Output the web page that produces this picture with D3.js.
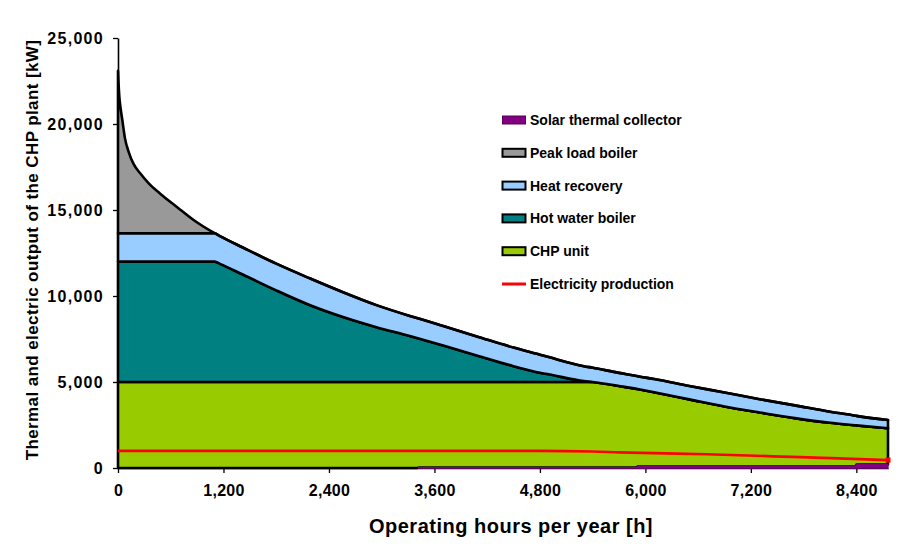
<!DOCTYPE html>
<html>
<head>
<meta charset="utf-8">
<script src="https://cdn.jsdelivr.net/npm/d3@7/dist/d3.min.js"></script>
<style>
  html, body { margin: 0; padding: 0; background: #fff; }
  svg { display: block; }
  text { font-family: "Liberation Sans", Arial, sans-serif; font-weight: bold; fill: #000; }
</style>
</head>
<body>
<svg id="chart" width="911" height="560"></svg>
<script>
// Operating hours (x categories)
const hours = [0, 5, 15, 30, 50, 80, 120, 180, 250, 350, 480, 670, 860, 1100, 1160, 1420, 1800, 2180, 2560, 2940, 3320, 3410, 3420, 3700, 4100, 4500, 4800, 4900, 5300, 5400, 5700, 5900, 5910, 6100, 6500, 6900, 7300, 7700, 8100, 8390, 8400, 8760];
// Series values [kW] (stacked, bottom to top)
const solarCollector = [0,0,0,0,0,0,0,0,0,0,0,0,0,0,0,0,0,0,0,0,0,0,25,25,25,25,25,25,25,25,25,25,80,80,80,80,80,80,80,80,200,200];
const chpUnit = [5000,5000,5000,5000,5000,5000,5000,5000,5000,5000,5000,5000,5000,5000,5000,5000,5000,5000,5000,5000,5000,5000,4975,4975,4975,4975,4975,4975,4975,4975,4745,4575,4510,4320,3910,3500,3150,2820,2550,2405,2280,2110];
const hotWaterBoiler = [7000,7000,7000,7000,7000,7000,7000,7000,7000,7000,7000,7000,7000,7000,6870,6250,5330,4480,3780,3190,2680,2550,2535,2120,1510,920,540,450,50,0,0,0,0,0,0,0,0,0,0,0,0,0];
const heatRecovery = [1650,1650,1650,1650,1650,1650,1650,1650,1650,1650,1650,1650,1650,1650,1610,1570,1550,1550,1440,1280,1160,1150,1150,1130,1110,1080,1050,1000,870,830,760,750,750,770,780,810,770,740,640,555,550,480];
const peakLoadBoiler = [9450,8850,7950,7250,6550,5500,4750,4000,3500,2900,2300,1530,770,0,0,0,0,0,0,0,0,0,0,0,0,0,0,0,0,0,0,0,0,0,0,0,0,0,0,0,0,0];
// Electricity production line
const elecHours = [0, 4800, 5400, 5700, 6700, 7450, 8200, 8760];
const electricity = [1000, 990, 960, 910, 800, 680, 565, 460];
// Axis ticks
const xTicks = [0, 1200, 2400, 3600, 4800, 6000, 7200, 8400];
const yTicks = [0, 5000, 10000, 15000, 20000, 25000];
const legendLabels = ["Solar thermal collector", "Peak load boiler", "Heat recovery", "Hot water boiler", "CHP unit", "Electricity production"];

const colors = { solar: "#800080", chp: "#99CC00", hwb: "#008080", hr: "#99CCFF", peak: "#999999", elec: "#FF0000" };

const svg = d3.select("#chart");
const x = d3.scaleLinear().domain([0, 8760]).range([118, 888]);
const y = d3.scaleLinear().domain([0, 25000]).range([468, 38]);

const rows = hours.map((h, i) => ({
  h, solar: solarCollector[i], chp: chpUnit[i], hwb: hotWaterBoiler[i], hr: heatRecovery[i], peak: peakLoadBoiler[i]
}));
const keys = ["solar", "chp", "hwb", "hr", "peak"];
const stacked = d3.stack().keys(keys)(rows);

// Axes (drawn beneath the areas)
const xAxis = svg.append("g").attr("transform", "translate(0,468)")
  .call(d3.axisBottom(x).tickValues(xTicks).tickSize(5).tickSizeOuter(0).tickFormat(d3.format(",")));
const yAxis = svg.append("g").attr("transform", "translate(118,0)")
  .call(d3.axisLeft(y).tickValues(yTicks).tickSize(5).tickSizeOuter(0).tickFormat(d3.format(",")));
[xAxis, yAxis].forEach(g => {
  g.select(".domain").attr("stroke", "#000").attr("stroke-width", 1.6);
  g.selectAll(".tick line").attr("stroke", "#000").attr("stroke-width", 1.3);
  g.selectAll(".tick text").style("font-size", "16px").style("font-family", "'Liberation Sans', Arial, sans-serif").style("font-weight", "bold").attr("fill", "#000");
});
xAxis.selectAll(".tick text").attr("y", 17).style("letter-spacing", "0.3px");
yAxis.selectAll(".tick text").attr("x", -14).style("letter-spacing", "1.3px");

const area = d3.area().curve(d3.curveMonotoneX).x(d => x(d.data.h)).y0(d => y(d[0])).y1(d => y(d[1]));

// Stacked areas with black outlines
["chp", "hwb", "hr", "peak"].forEach(k => {
  const layer = stacked.find(s => s.key === k);
  svg.append("path").datum(layer).attr("d", area)
    .attr("fill", colors[k]).attr("stroke", "#000").attr("stroke-width", 2.6).attr("stroke-linejoin", "round");
});

// Electricity line
const line = d3.line().curve(d3.curveMonotoneX).x((d, i) => x(elecHours[i])).y(d => y(d));
svg.append("path").datum(electricity).attr("d", line)
  .attr("fill", "none").attr("stroke", colors.elec).attr("stroke-width", 2.7);
svg.append("rect")
  .attr("x", x(elecHours[elecHours.length - 1]) - 2.5).attr("y", y(electricity[electricity.length - 1]) - 2.5)
  .attr("width", 5).attr("height", 5).attr("fill", colors.elec);

// Solar thermal collector (only where present)
const solarArea = d3.area().x(d => x(d.data.h)).y0(d => y(d[0])).y1(d => y(d[1]));
const solarLayer = stacked.find(s => s.key === "solar").filter(d => d.data.solar > 0);
svg.append("path").datum(solarLayer).attr("d", solarArea)
  .attr("fill", colors.solar).attr("stroke", colors.solar).attr("stroke-width", 1.3);

// Axis titles
svg.append("text").attr("x", 511).attr("y", 533).attr("text-anchor", "middle")
  .style("font-size", "20px").style("letter-spacing", "0.5px").text("Operating hours per year [h]");
svg.append("text").attr("transform", "translate(38,250) rotate(-90)").attr("text-anchor", "middle")
  .style("font-size", "17px").style("letter-spacing", "0.4px").text("Thermal and electric output of the CHP plant [kW]");

// Legend
const legendFill = [colors.solar, colors.peak, colors.hr, colors.hwb, colors.chp, colors.elec];
const lg = svg.append("g");
legendLabels.forEach((lab, i) => {
  const cy = 120 + i * 32.8;
  if (i === 5) {
    lg.append("line").attr("x1", 502).attr("x2", 526).attr("y1", cy).attr("y2", cy)
      .attr("stroke", colors.elec).attr("stroke-width", 3);
  } else {
    lg.append("rect").attr("x", 502.5).attr("y", cy - 4).attr("width", 23).attr("height", 8)
      .attr("fill", legendFill[i]).attr("stroke", i === 0 ? "#5a005a" : "#000").attr("stroke-width", i === 0 ? 1 : 2);
  }
  lg.append("text").attr("x", 530).attr("y", cy + 5).style("font-size", "14px").text(lab);
});
</script>
</body>
</html>
